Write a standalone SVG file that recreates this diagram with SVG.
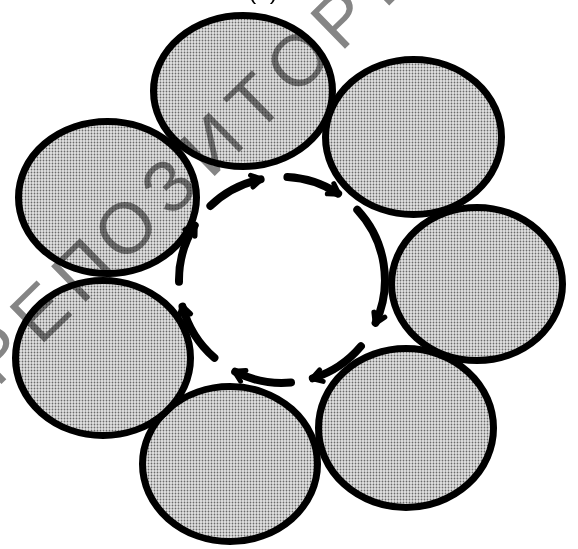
<svg xmlns="http://www.w3.org/2000/svg" width="578" height="549" viewBox="0 0 578 549">
  <style>
    .cell { fill: url(#halftone); stroke: #000; stroke-width: 7; }
    .arc { fill: none; stroke: #000; stroke-width: 8; stroke-linecap: round; marker-end: url(#head); }
    .wm { font-family: "Liberation Sans", Arial, sans-serif; font-size: 72px; fill: #858585; mix-blend-mode: multiply; }
    .lbl { font-family: "Liberation Sans", Arial, sans-serif; font-size: 24px; fill: #000; }
  </style>
  <defs>
    <pattern id="halftone" patternUnits="userSpaceOnUse" width="3" height="3">
      <rect width="3" height="3" fill="#e2e2e2"/>
      <circle cx="1.5" cy="1.5" r="0.9" fill="#6a6a6a"/>
    </pattern>
    <marker id="head" markerUnits="userSpaceOnUse" orient="auto" markerWidth="24" markerHeight="24" refX="0" refY="0" viewBox="-12 -12 24 24" overflow="visible">
      <path d="M -9,-6 L 1,0 L -9,6" fill="none" stroke="#000" stroke-width="5" stroke-linecap="round" stroke-linejoin="round"/>
    </marker>
  </defs>
  <rect width="578" height="549" fill="#fff"/>
  <text class="lbl" x="263" y="-1.5" text-anchor="middle">(а)</text>
  <g id="cell-top"><ellipse class="cell" cx="243" cy="91" rx="89.5" ry="75.5"/></g>
  <g id="cell-upper-right"><ellipse class="cell" cx="413.5" cy="137" rx="88" ry="77.5"/></g>
  <g id="cell-right"><ellipse class="cell" cx="477" cy="284" rx="85.5" ry="76.5"/></g>
  <g id="cell-lower-right"><ellipse class="cell" cx="406" cy="428" rx="87.5" ry="79.5"/></g>
  <g id="cell-bottom"><ellipse class="cell" cx="230" cy="464" rx="87.5" ry="77.5"/></g>
  <g id="cell-left"><ellipse class="cell" cx="103" cy="358" rx="87.5" ry="77.5"/></g>
  <g id="cell-upper-left"><ellipse class="cell" cx="107.5" cy="197.5" rx="89" ry="76"/></g>
  <g id="connectors">
    <path class="arc" d="M 179,281.8 A 103 103 0 0 1 194.7,225.4"/>
    <path class="arc" d="M 210.4,205.9 A 103 103 0 0 1 260.6,179.3"/>
    <path class="arc" d="M 287.4,177.1 A 103 103 0 0 1 338.1,193.6"/>
    <path class="arc" d="M 357.3,209.8 A 103 103 0 0 1 375.6,322.8"/>
    <path class="arc" d="M 360.9,346.2 A 103 103 0 0 1 312.8,378.3"/>
    <path class="arc" d="M 291,382.6 A 103 103 0 0 1 235.2,371.8"/>
    <path class="arc" d="M 214.4,357.8 A 103 103 0 0 1 182.5,306.7"/>
  </g>
  <text class="wm" transform="translate(125,227) rotate(-44.3)" x="-204 -144 -86 -28 38 94 158 212 276 338 398" y="26">РЕПОЗИТОРИЙ</text>
</svg>
